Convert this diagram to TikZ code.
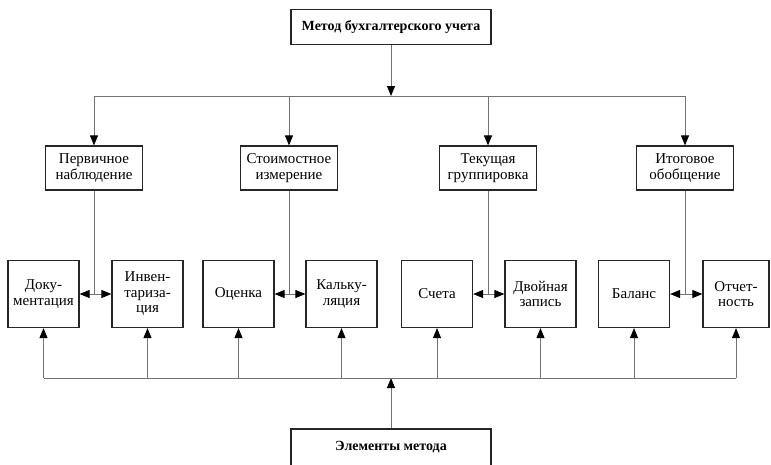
\documentclass[tikz,border=0pt]{standalone}
\usepackage{fontspec}
\setmainfont{Liberation Serif}
\usetikzlibrary{arrows.meta}
\begin{document}
\begin{tikzpicture}[x=1pt,y=-1pt,
 box/.style={draw=black!85,line width=1.2pt,inner sep=0pt,align=center,font=\fontsize{15}{15.5}\selectfont},
 lvl/.style={box,minimum width=97pt,minimum height=44pt},
 elem/.style={box,minimum width=71pt,minimum height=67pt},
 head/.style={box,minimum width=200pt,minimum height=35pt,font=\bfseries\fontsize{14}{16}\selectfont},
 conn/.style={draw=black!55,line width=1pt},
 tip/.tip={Triangle[length=10pt,width=8pt,color=black]},
 arr/.style={conn,-tip},
 darr/.style={conn,tip-tip}
]
\useasboundingbox (0,0) rectangle (771,464);
\node[head] (top) at (391,27) {Метод бухгалтерского учета};
\node[lvl] (p1) at (94,168) {Первичное\\наблюдение};
\node[lvl] (p2) at (289,168) {Стоимостное\\измерение};
\node[lvl] (p3) at (488,168) {Текущая\\группировка};
\node[lvl] (p4) at (685,168) {Итоговое\\обобщение};
\coordinate (hl) at (391,96);
\coordinate (bl) at (391,378);
\draw[arr] (top) -- (hl);
\draw[conn] (p1.north |- hl) -- (p4.north |- hl);
\foreach \p in {p1,p2,p3,p4} \draw[arr] (\p.north |- hl) -- (\p);

\node[elem] (d) at (43.5,294) {Доку-\\ментация};
\node[elem] (i) at (147.5,294) {Инвен-\\тариза-\\ция};
\node[elem] (o) at (238.5,294) {Оценка};
\node[elem] (k) at (341.5,294) {Кальку-\\ляция};
\node[elem] (s) at (437,294) {Счета};
\node[elem] (dz) at (540.5,294) {Двойная\\запись};
\node[elem] (b) at (634,294) {Баланс};
\node[elem,minimum width=66pt] (ot) at (736,294) {Отчет-\\ность};

\draw[darr] (d.east) -- (i.west);
\draw[darr] (o.east) -- (k.west);
\draw[darr] (s.east) -- (dz.west);
\draw[darr] (b.east) -- (ot.west);
\draw[conn] (p1.south) -- (p1.south |- d.east);
\draw[conn] (p2.south) -- (p2.south |- o.east);
\draw[conn] (p3.south) -- (p3.south |- s.east);
\draw[conn] (p4.south) -- (p4.south |- b.east);

\node[head,minimum height=37pt] (el) at (391,447.5) {Элементы метода};
\draw[arr] (el) -- (bl);
\draw[conn] (d.south |- bl) -- (ot.south |- bl);
\foreach \e in {d,i,o,k,s,dz,b,ot} \draw[arr] (\e.south |- bl) -- (\e);
\end{tikzpicture}
\end{document}
